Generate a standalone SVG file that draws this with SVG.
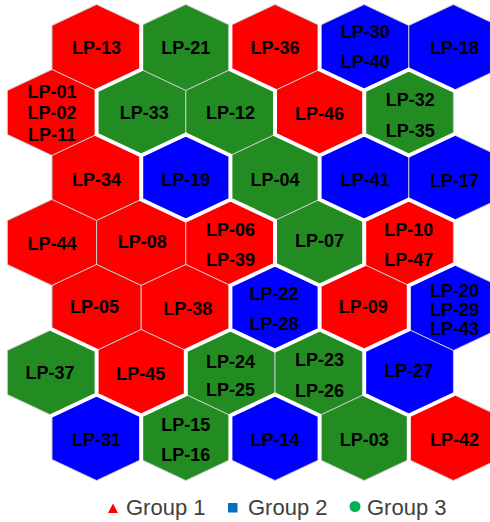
<svg xmlns="http://www.w3.org/2000/svg" xmlns:xlink="http://www.w3.org/1999/xlink" width="490" height="522" viewBox="0 0 490 522">
<style>
.hx{stroke:#c8c8c8;stroke-width:1}
.r{fill:#ff0000}
.g{fill:#228b22}
.b{fill:#0000ff}
text.l{font-family:"Liberation Sans",Arial,sans-serif;font-weight:bold;font-size:18px;fill:#000;text-anchor:middle}
.brd{fill:none;stroke:#fff;stroke-width:4;stroke-linecap:round}
.lg{font-family:"Liberation Sans",Arial,sans-serif;font-size:22px;fill:#404040}
</style>
<defs>
<polygon id="hx" points="0,-43 44.6,-22 44.6,22 0,43 -44.6,22 -44.6,-22"/>
</defs>
<rect width="490" height="522" fill="#fff"/>
<g id="nodes">
<g id="LP-13" transform="translate(96.6,47.5)"><use xlink:href="#hx" class="hx r"/><text class="l" y="6.5">LP-13</text></g>
<g id="LP-21" transform="translate(185.8,47.5)"><use xlink:href="#hx" class="hx g"/><text class="l" y="6">LP-21</text></g>
<g id="LP-36" transform="translate(275,47.5)"><use xlink:href="#hx" class="hx r"/><text class="l" y="6.5">LP-36</text></g>
<g id="LP-30-40" transform="translate(364.2,47.5)"><use xlink:href="#hx" class="hx b"/><text class="l" x="1"><tspan x="1" y="-9.5">LP-30</tspan><tspan x="1" y="20.5">LP-40</tspan></text></g>
<g id="LP-18" transform="translate(453.4,47.5)"><use xlink:href="#hx" class="hx b"/><text class="l" x="1" y="6">LP-18</text></g>

<g id="LP-01-02-11" transform="translate(52,112.5)"><use xlink:href="#hx" class="hx r"/><text class="l"><tspan x="0" y="-14.5">LP-01</tspan><tspan x="0" y="6">LP-02</tspan><tspan x="0" y="28.5">LP-11</tspan></text></g>
<g id="LP-33" transform="translate(141.2,112.5)"><use xlink:href="#hx" class="hx g"/><text class="l" x="3" y="6.5">LP-33</text></g>
<g id="LP-12" transform="translate(230.4,112.5)"><use xlink:href="#hx" class="hx g"/><text class="l" y="6.5">LP-12</text></g>
<g id="LP-46" transform="translate(319.6,112.5)"><use xlink:href="#hx" class="hx r"/><text class="l" y="7">LP-46</text></g>
<g id="LP-32-35" transform="translate(408.8,112.5)"><use xlink:href="#hx" class="hx g"/><text class="l"><tspan x="1.5" y="-7">LP-32</tspan><tspan x="1.5" y="24">LP-35</tspan></text></g>

<g id="LP-34" transform="translate(96.6,177.5)"><use xlink:href="#hx" class="hx r"/><text class="l" y="8">LP-34</text></g>
<g id="LP-19" transform="translate(185.8,177.5)"><use xlink:href="#hx" class="hx b"/><text class="l" y="8">LP-19</text></g>
<g id="LP-04" transform="translate(275,177.5)"><use xlink:href="#hx" class="hx g"/><text class="l" y="8.5">LP-04</text></g>
<g id="LP-41" transform="translate(364.2,177.5)"><use xlink:href="#hx" class="hx b"/><text class="l" x="1" y="8">LP-41</text></g>
<g id="LP-17" transform="translate(453.4,177.5)"><use xlink:href="#hx" class="hx b"/><text class="l" x="1" y="9">LP-17</text></g>

<g id="LP-44" transform="translate(52,242.5)"><use xlink:href="#hx" class="hx r"/><text class="l" y="7.5">LP-44</text></g>
<g id="LP-08" transform="translate(141.2,242.5)"><use xlink:href="#hx" class="hx r"/><text class="l" x="1" y="5">LP-08</text></g>
<g id="LP-06-39" transform="translate(230.4,242.5)"><use xlink:href="#hx" class="hx r"/><text class="l"><tspan x="0" y="-6.5">LP-06</tspan><tspan x="0" y="23.5">LP-39</tspan></text></g>
<g id="LP-07" transform="translate(319.6,242.5)"><use xlink:href="#hx" class="hx g"/><text class="l" y="4.5">LP-07</text></g>
<g id="LP-10-47" transform="translate(408.8,242.5)"><use xlink:href="#hx" class="hx r"/><text class="l"><tspan x="0" y="-6.5">LP-10</tspan><tspan x="0" y="23">LP-47</tspan></text></g>

<g id="LP-05" transform="translate(96.6,307.5)"><use xlink:href="#hx" class="hx r"/><text class="l" x="-2" y="5">LP-05</text></g>
<g id="LP-38" transform="translate(185.8,307.5)"><use xlink:href="#hx" class="hx r"/><text class="l" x="2" y="7.5">LP-38</text></g>
<g id="LP-22-28" transform="translate(275,307.5)"><use xlink:href="#hx" class="hx b"/><text class="l"><tspan x="-1" y="-7.5">LP-22</tspan><tspan x="-1" y="22">LP-28</tspan></text></g>
<g id="LP-09" transform="translate(364.2,307.5)"><use xlink:href="#hx" class="hx r"/><text class="l" x="-1" y="5.5">LP-09</text></g>
<g id="LP-20-29-43" transform="translate(453.4,307.5)"><use xlink:href="#hx" class="hx b"/><text class="l"><tspan x="1" y="-10.5">LP-20</tspan><tspan x="1" y="8.7">LP-29</tspan><tspan x="1" y="27.7">LP-43</tspan></text></g>

<g id="LP-37" transform="translate(52,372.5)"><use xlink:href="#hx" class="hx g"/><text class="l" x="-2" y="6">LP-37</text></g>
<g id="LP-45" transform="translate(141.2,372.5)"><use xlink:href="#hx" class="hx r"/><text class="l" x="-0.5" y="7">LP-45</text></g>
<g id="LP-24-25" transform="translate(230.4,372.5)"><use xlink:href="#hx" class="hx g"/><text class="l"><tspan x="0" y="-4.5">LP-24</tspan><tspan x="0" y="23.5">LP-25</tspan></text></g>
<g id="LP-23-26" transform="translate(319.6,372.5)"><use xlink:href="#hx" class="hx g"/><text class="l"><tspan x="0" y="-6.5">LP-23</tspan><tspan x="0" y="24">LP-26</tspan></text></g>
<g id="LP-27" transform="translate(408.8,372.5)"><use xlink:href="#hx" class="hx b"/><text class="l" y="4">LP-27</text></g>

<g id="LP-31" transform="translate(96.6,437.5)"><use xlink:href="#hx" class="hx b"/><text class="l" y="8.5">LP-31</text></g>
<g id="LP-15-16" transform="translate(185.8,437.5)"><use xlink:href="#hx" class="hx g"/><text class="l"><tspan x="0" y="-6.5">LP-15</tspan><tspan x="0" y="23.5">LP-16</tspan></text></g>
<g id="LP-14" transform="translate(275,437.5)"><use xlink:href="#hx" class="hx b"/><text class="l" y="8">LP-14</text></g>
<g id="LP-03" transform="translate(364.2,437.5)"><use xlink:href="#hx" class="hx g"/><text class="l" y="8">LP-03</text></g>
<g id="LP-42" transform="translate(453.4,437.5)"><use xlink:href="#hx" class="hx r"/><text class="l" x="1" y="8.5">LP-42</text></g>
</g>
<g id="borders">
<path class="brd" d="M141.2,25.5V69.5M230.4,25.5V69.5M319.6,25.5V69.5M96.6,90.5V134.5M275,90.5V134.5M364.2,90.5V134.5M141.2,155.5V199.5M230.4,155.5V199.5M319.6,155.5V199.5M275,220.5V264.5M364.2,220.5V264.5M230.4,285.5V329.5M319.6,285.5V329.5M408.8,285.5V329.5M96.6,350.5V394.5M185.8,350.5V394.5M364.2,350.5V394.5M141.2,415.5V459.5M230.4,415.5V459.5M319.6,415.5V459.5M408.8,415.5V459.5
M141.2,69.5L96.6,90.5M275,90.5L230.4,69.5M364.2,90.5L319.6,69.5M408.8,69.5L364.2,90.5M453.4,90.5L408.8,69.5
M141.2,155.5L96.6,134.5M185.8,134.5L141.2,155.5M230.4,155.5L185.8,134.5M319.6,155.5L275,134.5M364.2,134.5L319.6,155.5M408.8,155.5L364.2,134.5M453.4,134.5L408.8,155.5
M185.8,220.5L141.2,199.5M230.4,199.5L185.8,220.5M275,220.5L230.4,199.5M364.2,220.5L319.6,199.5M408.8,199.5L364.2,220.5M453.4,220.5L408.8,199.5
M275,264.5L230.4,285.5M319.6,285.5L275,264.5M364.2,264.5L319.6,285.5M453.4,264.5L408.8,285.5
M96.6,350.5L52,329.5M230.4,329.5L185.8,350.5M275,350.5L230.4,329.5M319.6,329.5L275,350.5M364.2,350.5L319.6,329.5M408.8,329.5L364.2,350.5
M96.6,394.5L52,415.5M141.2,415.5L96.6,394.5M185.8,394.5L141.2,415.5M275,394.5L230.4,415.5M319.6,415.5L275,394.5M408.8,415.5L364.2,394.5M453.4,394.5L408.8,415.5"/>
</g>
<g id="legend">
<polygon points="108,513 118,513 113,503.5" fill="#ff0000"/>
<text class="lg" x="126" y="515">Group 1</text>
<rect x="228" y="503" width="9.5" height="9.5" fill="#0070c0"/>
<text class="lg" x="248" y="515">Group 2</text>
<circle cx="355" cy="506.5" r="5.5" fill="#00b050"/>
<text class="lg" x="367" y="515">Group 3</text>
</g>
</svg>
